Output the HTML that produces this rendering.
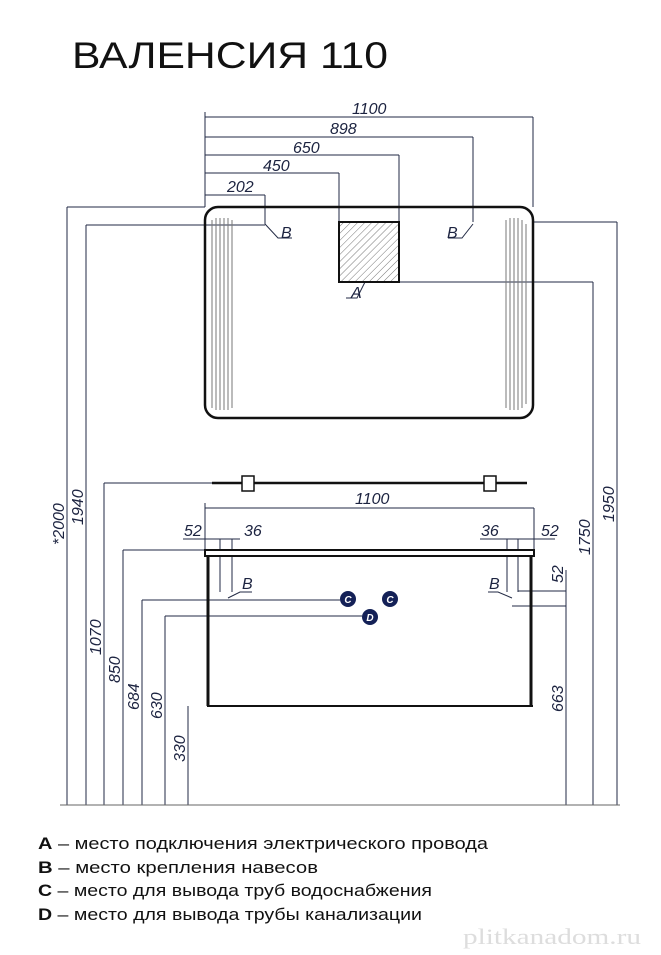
<!DOCTYPE html>
<html><head><meta charset="utf-8"><style>
html,body{margin:0;padding:0;background:#fff}
svg{display:block}
.d{font-family:"Liberation Sans",sans-serif;font-style:italic;font-size:16px;fill:#1c2340}
.l{stroke:#222a44;stroke-width:1;fill:none}
</style></head><body>
<svg width="661" height="955" viewBox="0 0 661 955" xmlns="http://www.w3.org/2000/svg">
<defs>
<pattern id="h" width="5" height="5" patternUnits="userSpaceOnUse" patternTransform="rotate(45)">
<line x1="0" y1="0" x2="0" y2="5" stroke="#777" stroke-width="1"/></pattern>
</defs>
<text x="72" y="68" font-family="Liberation Sans,sans-serif" font-size="37" fill="#111" textLength="316" lengthAdjust="spacingAndGlyphs">ВАЛЕНСИЯ 110</text>

<!-- top dims -->
<g class="l">
<line x1="205" y1="112" x2="205" y2="207"/>
<line x1="205" y1="117" x2="533" y2="117"/><line x1="533" y1="117" x2="533" y2="207"/>
<line x1="205" y1="137" x2="473" y2="137"/><line x1="473" y1="137" x2="473" y2="222"/>
<line x1="205" y1="155" x2="399" y2="155"/><line x1="399" y1="155" x2="399" y2="222"/>
<line x1="205" y1="173" x2="339" y2="173"/><line x1="339" y1="173" x2="339" y2="222"/>
<line x1="205" y1="195" x2="265" y2="195"/><line x1="265" y1="195" x2="265" y2="224"/>
<polyline points="265,224 278,238 292,238"/>
<polyline points="473,224 462,238 448,238"/>
<polyline points="365,282 357,298 346,298"/>
<line x1="67" y1="207" x2="67" y2="805"/><line x1="67" y1="207" x2="205" y2="207"/>
<line x1="86" y1="225" x2="86" y2="805"/><line x1="86" y1="225" x2="265" y2="225"/>
<line x1="104" y1="483" x2="104" y2="805"/><line x1="104" y1="483" x2="212" y2="483"/>
<line x1="123" y1="550" x2="123" y2="805"/><line x1="123" y1="550" x2="205" y2="550"/>
<line x1="142" y1="600" x2="142" y2="805"/><line x1="142" y1="600" x2="340" y2="600"/>
<line x1="165" y1="616" x2="165" y2="805"/><line x1="165" y1="616" x2="362" y2="616"/>
<line x1="188" y1="706" x2="188" y2="805"/>
<line x1="617" y1="222" x2="617" y2="805"/><line x1="533" y1="222" x2="617" y2="222"/>
<line x1="593" y1="282" x2="593" y2="805"/><line x1="399" y1="282" x2="593" y2="282"/>
<line x1="566" y1="570" x2="566" y2="805"/>
<line x1="518" y1="591" x2="566" y2="591"/><line x1="512" y1="606" x2="566" y2="606"/>
<line x1="60" y1="805" x2="620" y2="805" stroke="#666"/>
<line x1="205" y1="503" x2="205" y2="550"/>
<line x1="205" y1="508" x2="534" y2="508"/><line x1="534" y1="508" x2="534" y2="550"/>
<line x1="183" y1="539" x2="240" y2="539"/>
<line x1="220" y1="539" x2="220" y2="592"/><line x1="232" y1="539" x2="232" y2="592"/>
<polyline points="228,598 240,592 252,592"/>
<line x1="480" y1="539" x2="555" y2="539"/>
<line x1="507" y1="539" x2="507" y2="592"/><line x1="518" y1="539" x2="518" y2="592"/>
<polyline points="512,598 498,592 488,592"/>
</g>
<text class="d" x="352" y="114">1100</text>
<text class="d" x="330" y="134">898</text>
<text class="d" x="293" y="153">650</text>
<text class="d" x="263" y="171">450</text>
<text class="d" x="227" y="192">202</text>
<text class="d" x="281" y="238">B</text>
<text class="d" x="447" y="238">B</text>
<text class="d" x="351" y="298">A</text>
<text class="d" x="355" y="504">1100</text>
<text class="d" x="184" y="536">52</text>
<text class="d" x="244" y="536">36</text>
<text class="d" x="481" y="536">36</text>
<text class="d" x="541" y="536">52</text>
<text class="d" x="242" y="589">B</text>
<text class="d" x="489" y="589">B</text>
<g class="d">
<text transform="translate(64,545) rotate(-90)">*2000</text>
<text transform="translate(83,525) rotate(-90)">1940</text>
<text transform="translate(101,655) rotate(-90)">1070</text>
<text transform="translate(120,683) rotate(-90)">850</text>
<text transform="translate(139,710) rotate(-90)">684</text>
<text transform="translate(162,719) rotate(-90)">630</text>
<text transform="translate(185,762) rotate(-90)">330</text>
<text transform="translate(614,522) rotate(-90)">1950</text>
<text transform="translate(590,555) rotate(-90)">1750</text>
<text transform="translate(563,583) rotate(-90)">52</text>
<text transform="translate(563,712) rotate(-90)">663</text>
</g>

<rect x="205" y="207" width="328" height="211" rx="13" fill="none" stroke="#111" stroke-width="2.5"/>
<rect x="339" y="222" width="60" height="60" fill="url(#h)" stroke="#111" stroke-width="2"/>
<g stroke="#777" stroke-width="1">
<line x1="212" y1="220" x2="212" y2="408"/><line x1="216" y1="218" x2="216" y2="410"/><line x1="220" y1="218" x2="220" y2="410"/><line x1="224" y1="218" x2="224" y2="410"/><line x1="228" y1="218" x2="228" y2="410"/><line x1="232" y1="220" x2="232" y2="408"/>
<line x1="506" y1="220" x2="506" y2="408"/><line x1="510" y1="218" x2="510" y2="410"/><line x1="514" y1="218" x2="514" y2="410"/><line x1="518" y1="218" x2="518" y2="410"/><line x1="522" y1="220" x2="522" y2="408"/><line x1="526" y1="224" x2="526" y2="404"/>
</g>
<line x1="212" y1="483" x2="527" y2="483" stroke="#111" stroke-width="2.5"/>
<rect x="242" y="476" width="12" height="15" fill="#fff" stroke="#111" stroke-width="1.5"/>
<rect x="484" y="476" width="12" height="15" fill="#fff" stroke="#111" stroke-width="1.5"/>
<rect x="205" y="550" width="329" height="6" fill="#fff" stroke="#111" stroke-width="2"/>
<line x1="208" y1="556" x2="208" y2="706" stroke="#111" stroke-width="3"/>
<line x1="531" y1="556" x2="531" y2="706" stroke="#111" stroke-width="3"/>
<line x1="207" y1="706" x2="533" y2="706" stroke="#111" stroke-width="2"/>
<g font-family="Liberation Sans,sans-serif" font-style="italic" font-size="10" font-weight="bold" fill="#fff" text-anchor="middle">
<circle cx="348" cy="599" r="8" fill="#142157"/><text x="348" y="603">C</text>
<circle cx="390" cy="599" r="8" fill="#142157"/><text x="390" y="603">C</text>
<circle cx="370" cy="617" r="8" fill="#142157"/><text x="370" y="621">D</text>
</g>

<g font-family="Liberation Sans,sans-serif" font-size="17" fill="#111" lengthAdjust="spacingAndGlyphs">
<text x="38" y="849" textLength="450" lengthAdjust="spacingAndGlyphs"><tspan font-weight="bold">A</tspan> – место подключения электрического провода</text>
<text x="38" y="873" textLength="280" lengthAdjust="spacingAndGlyphs"><tspan font-weight="bold">B</tspan> – место крепления навесов</text>
<text x="38" y="896" textLength="394" lengthAdjust="spacingAndGlyphs"><tspan font-weight="bold">C</tspan> – место для вывода труб водоснабжения</text>
<text x="38" y="920" textLength="384" lengthAdjust="spacingAndGlyphs"><tspan font-weight="bold">D</tspan> – место для вывода трубы канализации</text>
</g>
<text x="463" y="944" font-family="Liberation Serif,serif" font-size="22" fill="#ddd" textLength="178" lengthAdjust="spacingAndGlyphs">plitkanadom.ru</text>
</svg>
</body></html>
